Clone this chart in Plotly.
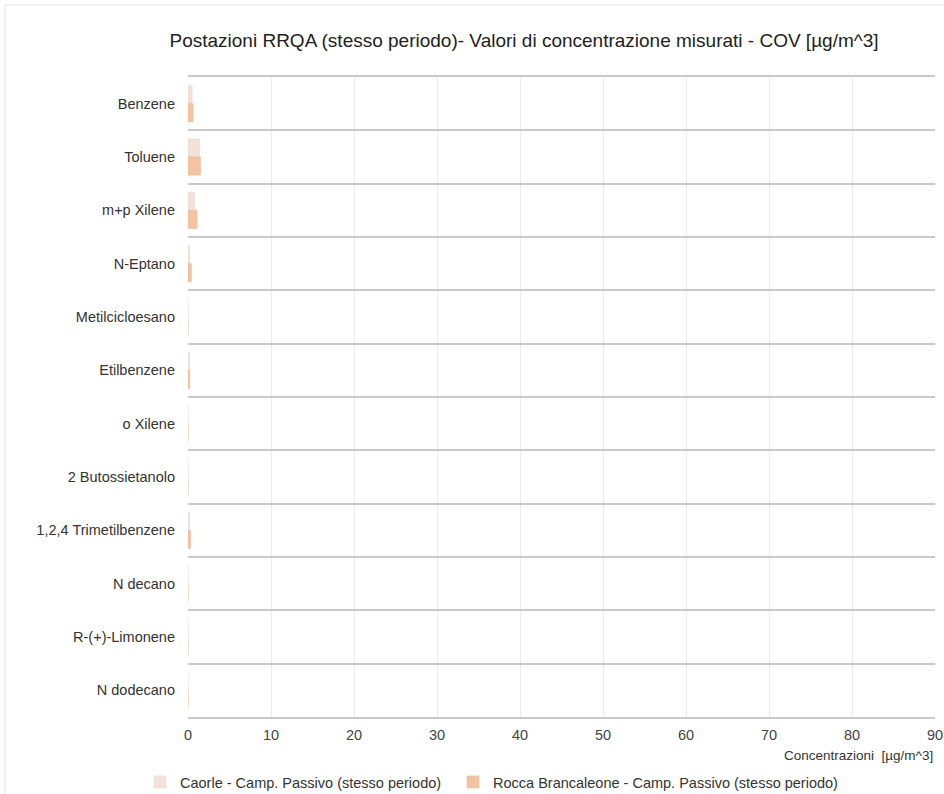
import plotly.graph_objects as go

# Composti organici volatili misurati (campionamento passivo, stesso periodo)
categories = [
    "Benzene", "Toluene", "m+p Xilene", "N-Eptano", "Metilcicloesano",
    "Etilbenzene", "o Xilene", "2 Butossietanolo", "1,2,4 Trimetilbenzene",
    "N decano", "R-(+)-Limonene", "N dodecano",
]
caorle = [0.5, 1.4, 0.8, 0.2, 0.0, 0.2, 0.0, 0.0, 0.2, 0.0, 0.0, 0.0]
rocca = [0.6, 1.5, 1.1, 0.4, 0.0, 0.2, 0.0, 0.0, 0.3, 0.0, 0.0, 0.0]

series_names = [
    "Caorle - Camp. Passivo (stesso periodo)",
    "Rocca Brancaleone - Camp. Passivo (stesso periodo)",
]
x_ticks = [0, 10, 20, 30, 40, 50, 60, 70, 80, 90]

FONT = "Liberation Sans, Arial, sans-serif"
W, H = 944, 794
L, R, T, B = 188, 9, 77, 77
PW, PH = W - L - R, H - T - B

fig = go.Figure()
fig.add_trace(go.Bar(
    y=categories, x=caorle, orientation="h", name=series_names[0],
    marker=dict(color="#f3e2d9", line=dict(color="#e2d6d0", width=0.5)),
    legend="legend",
))
fig.add_trace(go.Bar(
    y=categories, x=rocca, orientation="h", name=series_names[1],
    marker=dict(color="#f2c4a2", line=dict(color="#e8b08a", width=0.5)),
    legend="legend2",
))

legend_common = dict(
    orientation="h", xanchor="left",
    y=1 - 782 / H, yref="container", yanchor="middle",
    font=dict(family=FONT, size=14.5, color="#333333"),
    itemwidth=30, bgcolor="rgba(0,0,0,0)",
)

fig.update_layout(
    width=W, height=H,
    margin=dict(l=L, r=R, t=T, b=B),
    paper_bgcolor="white", plot_bgcolor="white",
    font=dict(family=FONT, size=14, color="#333333"),
    barmode="group", bargap=0.32, bargroupgap=0.0,
    title=dict(
        text="Postazioni RRQA (stesso periodo)- Valori di concentrazione misurati - COV [µg/m^3]",
        x=524 / W, xref="container", xanchor="center",
        y=1 - 40 / H, yref="container", yanchor="middle",
        font=dict(family=FONT, size=19, color="#222222"),
    ),
    showlegend=True,
    legend=dict(x=(140 - L) / PW, **legend_common),
    legend2=dict(x=(453 - L) / PW, **legend_common),
)

fig.update_xaxes(
    range=[0, 90], tickvals=x_ticks, ticktext=[str(v) for v in x_ticks],
    showgrid=True, gridcolor="#ebebeb", gridwidth=1,
    zeroline=False, ticks="",
    showline=True, mirror=True, linecolor="#c9c9c9", linewidth=2,
    automargin=False, ticklabeloverflow="allow", ticklabelstandoff=4,
    tickfont=dict(family=FONT, size=14.5, color="#444444"),
)
fig.update_yaxes(
    type="category", autorange="reversed", tickson="boundaries",
    showgrid=True, gridcolor="#c9c9c9", gridwidth=2,
    zeroline=False, showline=False, ticks="",
    ticklabelstandoff=12, automargin=False,
    tickfont=dict(family=FONT, size=14.5, color="#333333"),
)

# Titolo dell'asse delle concentrazioni, allineato a destra sotto le etichette
fig.add_annotation(
    text="Concentrazioni  [µg/m^3]", xref="paper", yref="paper",
    x=1.0, y=-38 / PH, xanchor="right", yanchor="middle", showarrow=False,
    font=dict(family=FONT, size=13.5, color="#333333"),
)

# Cornice esterna del grafico
fig.add_shape(
    type="rect", xref="paper", yref="paper",
    x0=(5 - L) / PW, x1=1.05, y0=-0.2, y1=(H - 5 - B) / PH,
    line=dict(color="#e4e4e4", width=1), fillcolor="rgba(0,0,0,0)", layer="below",
)

fig.write_html("out.html")
